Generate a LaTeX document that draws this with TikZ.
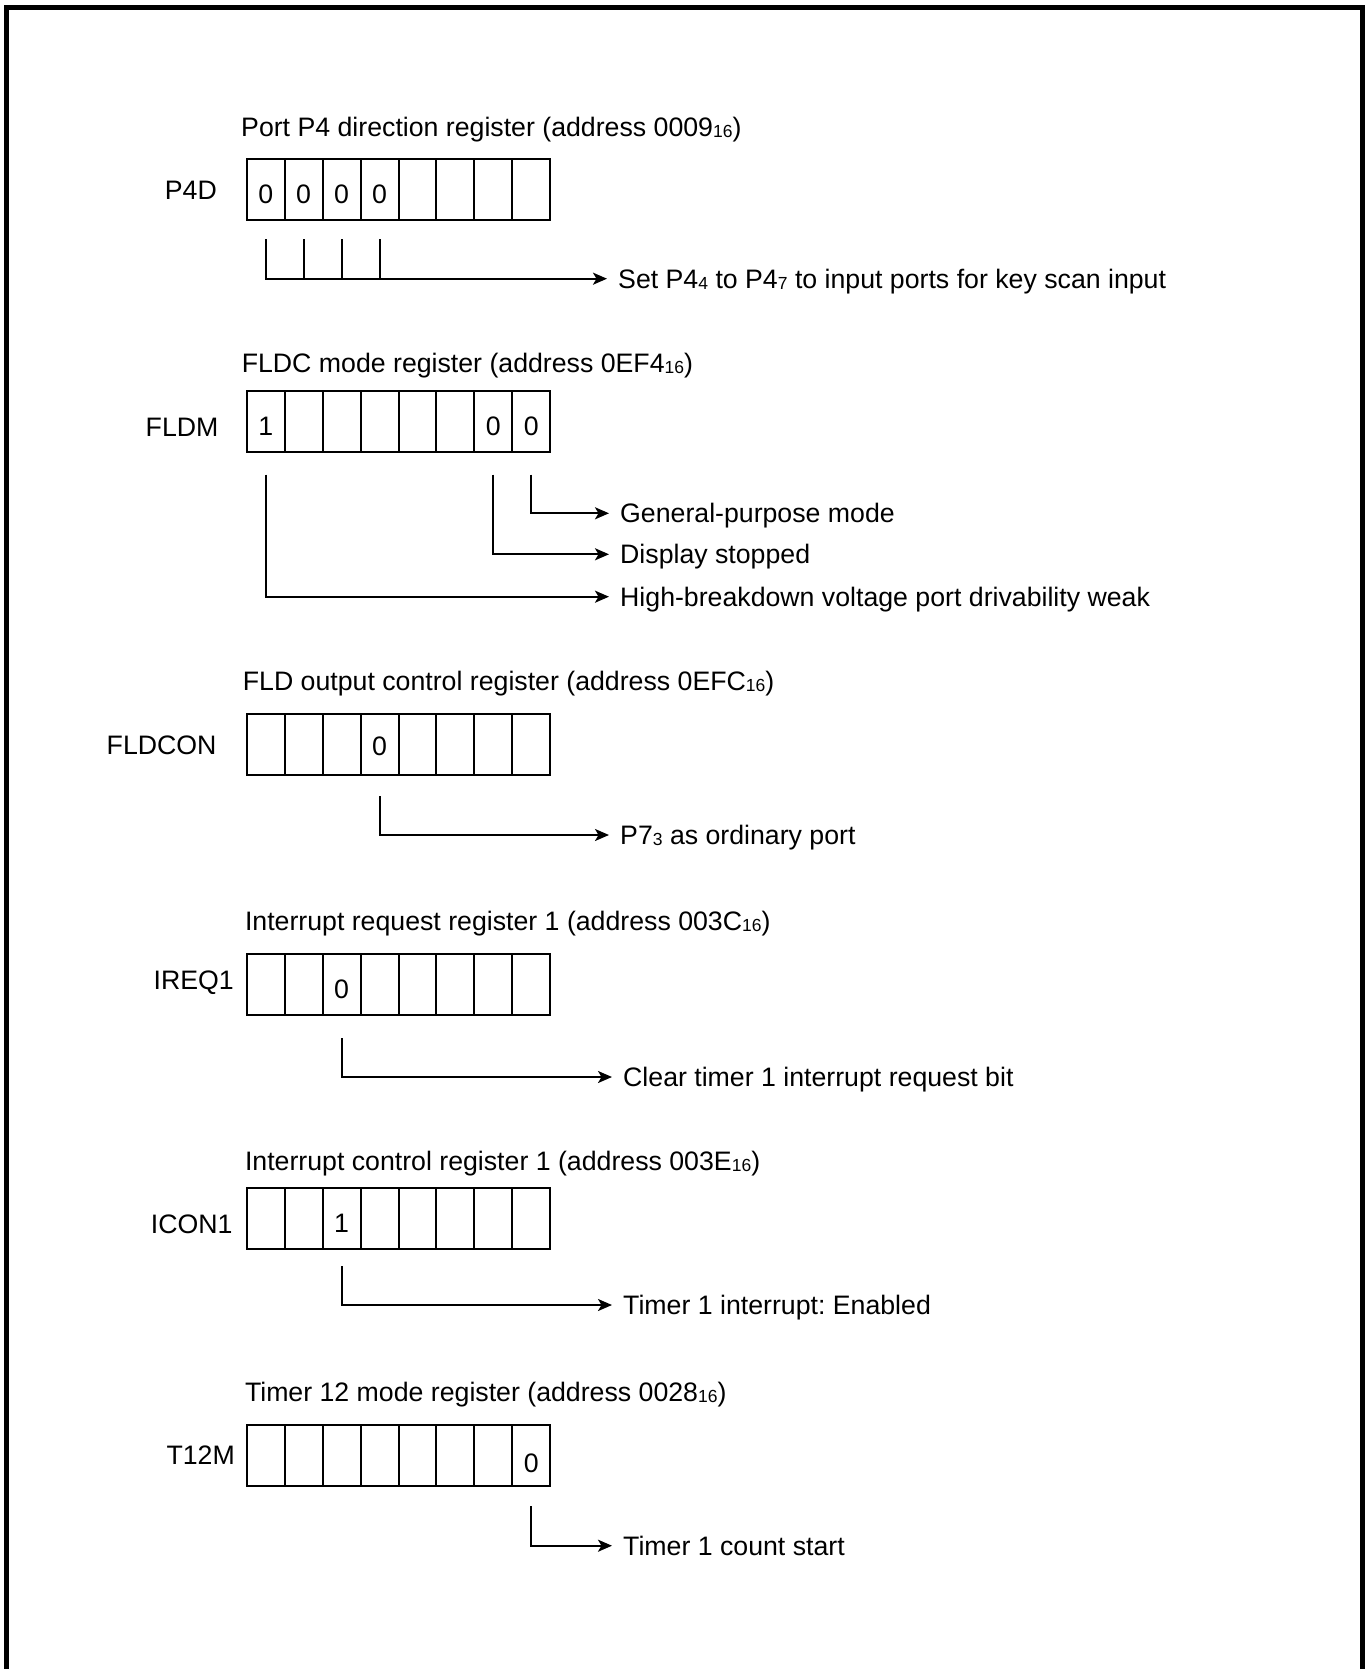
\documentclass[tikz,border=0pt]{standalone}
\usepackage{fontspec}
\setmainfont{Liberation Sans}
\usetikzlibrary{arrows.meta}
\frenchspacing
\newcommand\smallsub[1]{\raisebox{-1pt}{\fontsize{17.5}{17.5}\selectfont #1}}
\newcommand\mkreg[2]{\foreach \i in {1,...,8}{\node[cell] (#1\i) at ({245.7+(\i-1)*37.95},#2) {};}}
\begin{document}
\begin{tikzpicture}[x=1pt,y=-1pt,
  every node/.style={font=\fontsize{26.7}{30}\selectfont, inner sep=0pt},
  cell/.style={draw, line width=2pt, anchor=north west, minimum width=37.95pt, minimum height=61pt},
  title/.style={anchor=west, text height=20pt, text depth=1pt},
  reglabel/.style={anchor=east},
  note/.style={anchor=west, inner xsep=11pt, inner ysep=0pt, text height=20pt, text depth=1pt},
  conn/.style={line width=2pt},
  arr/.style={conn, -{Stealth[length=14pt,width=12pt,inset=3.5pt]}},
  frame/.style={line width=5.5pt}]
\useasboundingbox (0,0) rectangle (1370,1669);
\draw[frame] (6.5,1669) -- (6.5,7.5) -- (1362.5,7.5) -- (1362.5,1669);

% ---- P4D
\node[title] (t1) at (241,126.7) {Port P4 direction register (address 0009\smallsub{16})};
\node[reglabel] (l1) at (217,190) {P4D};
\mkreg{p4d}{157.7}
\foreach \i in {1,2,3,4}{\node (p4dv\i) at ([yshift=-5pt]p4d\i.center) {0};}
\node[note] (n1) at (607,278.7) {Set P4\smallsub{4} to P4\smallsub{7} to input ports for key scan input};
\draw[arr] ([yshift=-18.7pt]p4d1.south) |- (n1.west);
\foreach \i in {2,3,4}{\draw[conn] ([yshift=-18.7pt]p4d\i.south) -- (p4d\i.south |- n1.west);}

% ---- FLDM
\node[title] (t2) at (241.6,363.3) {FLDC mode register (address 0EF4\smallsub{16})};
\node[reglabel] (l2) at (218.6,427) {FLDM};
\mkreg{fldm}{390}
\node (fldmv1) at ([yshift=-4.5pt]fldm1.center) {1};
\node (fldmv7) at ([yshift=-4.5pt]fldm7.center) {0};
\node (fldmv8) at ([yshift=-4.5pt]fldm8.center) {0};
\node[note] (n2) at (609,513.3) {General-purpose mode};
\node[note] (n3) at (609,554.3) {Display stopped};
\node[note] (n4) at (609,596.7) {High-breakdown voltage port drivability weak};
\draw[arr] ([yshift=-21.7pt]fldm8.south) |- (n2.west);
\draw[arr] ([yshift=-21.7pt]fldm7.south) |- (n3.west);
\draw[arr] ([yshift=-21.7pt]fldm1.south) |- (n4.west);

% ---- FLDCON
\node[title] (t3) at (242.7,681.3) {FLD output control register (address 0EFC\smallsub{16})};
\node[reglabel] (l3) at (216.7,745) {FLDCON};
\mkreg{fldcon}{713.3}
\node (fldconv4) at ([yshift=-1.5pt]fldcon4.center) {0};
\node[note] (n5) at (609,835) {P7\smallsub{3} as ordinary port};
\draw[arr] ([yshift=-19.7pt]fldcon4.south) |- (n5.west);

% ---- IREQ1
\node[title] (t4) at (244.8,920.8) {Interrupt request register 1 (address 003C\smallsub{16})};
\node[reglabel] (l4) at (234,983) {IREQ1};
\mkreg{ireq}{953.3}
\node (ireqv3) at ([yshift=-4.5pt]ireq3.center) {0};
\node[note] (n6) at (612,1077) {Clear timer 1 interrupt request bit};
\draw[arr] ([yshift=-22pt]ireq3.south) |- (n6.west);

% ---- ICON1
\node[title] (t5) at (244.8,1161.4) {Interrupt control register 1 (address 003E\smallsub{16})};
\node[reglabel] (l5) at (232.7,1224) {ICON1};
\mkreg{icon}{1186.7}
\node (iconv3) at ([yshift=-5pt]icon3.center) {1};
\node[note] (n7) at (612,1305) {Timer 1 interrupt: Enabled};
\draw[arr] ([yshift=-16.7pt]icon3.south) |- (n7.west);

% ---- T12M
\node[title] (t6) at (244.8,1392.4) {Timer 12 mode register (address 0028\smallsub{16})};
\node[reglabel] (l6) at (235,1455) {T12M};
\mkreg{tm}{1424.3}
\node (tmv8) at ([yshift=-7pt]tm8.center) {0};
\node[note] (n8) at (612,1545.7) {Timer 1 count start};
\draw[arr] ([yshift=-19pt]tm8.south) |- (n8.west);
\end{tikzpicture}
\end{document}
